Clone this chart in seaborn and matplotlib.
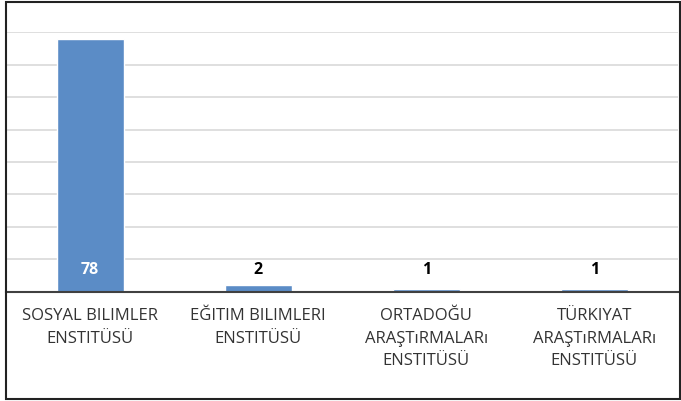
import matplotlib
matplotlib.use("Agg")
import matplotlib.pyplot as plt
import seaborn as sns
import pandas as pd
from matplotlib.patches import Rectangle

# data
categories = ["SOSYAL BILIMLER\nENSTITÜSÜ", "EĞITIM BILIMLERI\nENSTITÜSÜ",
              "ORTADOĞU\nARAŞTıRMALARı\nENSTITÜSÜ", "TÜRKIYAT\nARAŞTıRMALARı\nENSTITÜSÜ"]
counts = [78, 2, 1, 1]
label_colors = ["white", "black", "black", "black"]

df = pd.DataFrame({"Enstitü": categories, "Sayı": counts})

sns.set_style("white")
plt.rcParams['font.family'] = ['Open Sans', 'DejaVu Sans']

fig = plt.figure(figsize=(6.81, 4.01), dpi=100)
ax = fig.add_axes([0.009, 0.272, 0.987, 0.648])

sns.barplot(data=df, x="Enstitü", y="Sayı", color="#5b8cc6", width=0.4,
            saturation=1, ax=ax, zorder=3)

ax.set_ylim(0, 80)
ax.set_yticks(range(0, 81, 10))
ax.yaxis.grid(True, color="#dcdcdc", linewidth=1.3, zorder=0)
ax.set_axisbelow(True)
ax.tick_params(axis="y", left=False, labelleft=False)
ax.tick_params(axis="x", bottom=False, pad=8, labelsize=12, labelcolor="#333333")
for lbl in ax.get_xticklabels():
    lbl.set_linespacing(1.55)
ax.set_xlabel("")
ax.set_ylabel("")
for s in ["top", "right", "left"]:
    ax.spines[s].set_visible(False)
ax.spines["bottom"].set_color("#404040")
ax.spines["bottom"].set_linewidth(1.5)
ax.spines["bottom"].set_zorder(4)

# value labels, all at the same height like the original
for i, (v, c) in enumerate(zip(counts, label_colors)):
    ax.text(i, 6.8, str(v), ha="center", va="center", fontsize=11.5,
            fontweight="bold", color=c, zorder=5)

# outer frame
fig.patches.append(Rectangle((0.009, 0.004), 0.99, 0.992, transform=fig.transFigure,
                             fill=False, edgecolor="#222222", linewidth=1.5))

fig.savefig("out.png", dpi=100)
